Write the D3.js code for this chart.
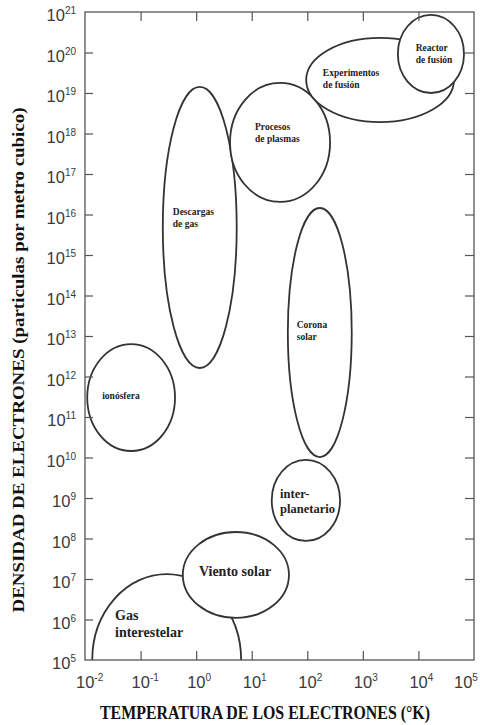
<!DOCTYPE html>
<html>
<head>
<meta charset="utf-8">
<script src="https://cdn.jsdelivr.net/npm/d3@7"></script>
<style>
  body { margin: 0; background: #fff; }
  svg text { font-family: "Liberation Serif", "Times New Roman", serif; }
  .tick-label { font-family: "Liberation Sans", Arial, sans-serif !important; fill: #3a3a3a; }
</style>
</head>
<body>
<div id="chart"></div>
<script>
// powers of ten shown on the axes
var tempExp = [-2, -1, 0, 1, 2, 3, 4, 5];
var densExp = [5, 6, 7, 8, 9, 10, 11, 12, 13, 14, 15, 16, 17, 18, 19, 20, 21];

// plasma regions, drawn in this order (later ones cover earlier ones)
var regionNames = ["Gas interestelar", "Viento solar", "interplanetario", "Corona solar", "ionósfera",
                   "Descargas de gas", "Procesos de plasmas", "Experimentos de fusión", "Reactor de fusión"];
var regionLines = [["Gas", "interestelar"], ["Viento solar"], ["inter-", "planetario"], ["Corona", "solar"],
                   ["ionósfera"], ["Descargas", "de gas"], ["Procesos", "de plasmas"],
                   ["Experimentos", "de fusión"], ["Reactor", "de fusión"]];
// log10 of temperature (K), min / max
var regionTemp = [[-1.87, 0.81], [-0.24, 1.67], [1.36, 2.59], [1.65, 2.80], [-1.96, -0.38],
                  [-0.60, 0.73], [0.61, 2.41], [1.98, 4.64], [3.63, 4.82]];
// log10 of density (m^-3), min / max
var regionDens = [[2.88, 7.12], [6.04, 8.16], [7.94, 9.94], [10.01, 16.16], [10.16, 12.80],
                  [12.21, 19.15], [16.31, 19.25], [18.28, 20.36], [19.0, 20.93]];
// where each label starts (log10 T, log10 n of first baseline)
var labelTemp = [-1.46, 0.05, 1.51, 1.81, -1.69, -0.42, 1.06, 2.28, 3.95];
var labelDens = [5.99, 7.07, 9.0, 13.2, 11.44, 15.99, 18.09, 19.42, 20.04];

var width = 480, height = 725;
var svg = d3.select("#chart").append("svg").attr("width", width).attr("height", height);

var x = d3.scaleLog().domain([1e-2, 1e5]).range([85, 474]);
var y = d3.scaleLog().domain([1e5, 1e21]).range([660, 12]);
var p = function(e) { return Math.pow(10, e); };

svg.append("clipPath").attr("id", "plot")
  .append("rect").attr("x", 85).attr("y", 12).attr("width", 389).attr("height", 648);

// regions
var g = svg.append("g").attr("clip-path", "url(#plot)");
regionNames.forEach(function(name, i) {
  var x0 = x(p(regionTemp[i][0])), x1 = x(p(regionTemp[i][1]));
  var y0 = y(p(regionDens[i][0])), y1 = y(p(regionDens[i][1]));
  g.append("ellipse")
    .attr("cx", (x0 + x1) / 2)
    .attr("cy", (y0 + y1) / 2)
    .attr("rx", Math.abs(x1 - x0) / 2)
    .attr("ry", Math.abs(y1 - y0) / 2)
    .attr("fill", "#fff")
    .attr("stroke", "#333")
    .attr("stroke-width", 1.8);
});

// region labels
var bigSize = {"Gas interestelar": 14, "Viento solar": 14, "interplanetario": 12.5};
regionNames.forEach(function(name, i) {
  var fs = bigSize[name] || 9.5;
  var lh = fs > 10 ? fs * 1.2 : 12.5;
  var t = svg.append("text")
    .attr("x", x(p(labelTemp[i])))
    .attr("y", y(p(labelDens[i])))
    .attr("font-size", fs)
    .attr("font-weight", "bold")
    .attr("fill", "#222");
  regionLines[i].forEach(function(line, k) {
    t.append("tspan").attr("x", x(p(labelTemp[i]))).attr("dy", k === 0 ? 0 : lh).text(line);
  });
});

// inward ticks on all four sides
var inner = tempExp.slice(1, -1).map(p);
var innerY = densExp.slice(1, -1).map(p);
svg.append("g").attr("transform", "translate(0,660)")
  .call(d3.axisBottom(x).tickValues(inner).tickSize(-9).tickFormat(""));
svg.append("g").attr("transform", "translate(0,12)")
  .call(d3.axisTop(x).tickValues(inner).tickSize(-9).tickFormat(""));
svg.append("g").attr("transform", "translate(85,0)")
  .call(d3.axisLeft(y).tickValues(innerY).tickSize(-8).tickFormat(""));
svg.append("g").attr("transform", "translate(474,0)")
  .call(d3.axisRight(y).tickValues(innerY).tickSize(-9).tickFormat(""));
svg.selectAll(".domain").remove();
svg.selectAll(".tick line").attr("stroke", "#555").attr("stroke-width", 1.2);

svg.append("rect")
  .attr("x", 85).attr("y", 12).attr("width", 389).attr("height", 648)
  .attr("fill", "none").attr("stroke", "#555").attr("stroke-width", 1.3);

// tick labels 10^n
densExp.forEach(function(e) {
  var t = svg.append("text").attr("class", "tick-label")
    .attr("x", 76).attr("y", y(p(e)) + 9)
    .attr("text-anchor", "end").attr("font-size", 16.5);
  t.append("tspan").text("10");
  t.append("tspan").attr("font-size", 10).attr("dy", -7).text(e);
});
tempExp.forEach(function(e) {
  // keep the last label inside the page
  var lx = Math.min(x(p(e)) - 9, width - 26);
  var t = svg.append("text").attr("class", "tick-label")
    .attr("x", lx).attr("y", 688)
    .attr("font-size", 16.5);
  t.append("tspan").text("10");
  t.append("tspan").attr("font-size", 10).attr("dy", -7).text(e);
});

// axis titles
svg.append("text")
  .attr("x", 265).attr("y", 719)
  .attr("text-anchor", "middle")
  .attr("font-size", 18).attr("font-weight", "bold").attr("fill", "#111")
  .attr("textLength", 330).attr("lengthAdjust", "spacingAndGlyphs")
  .text("TEMPERATURA DE LOS ELECTRONES (°K)");

svg.append("text")
  .attr("transform", "translate(24,360) rotate(-90)")
  .attr("text-anchor", "middle")
  .attr("font-size", 17).attr("font-weight", "bold").attr("fill", "#111")
  .attr("textLength", 505).attr("lengthAdjust", "spacingAndGlyphs")
  .text("DENSIDAD DE ELECTRONES (particulas por metro cubico)");
</script>
</body>
</html>
